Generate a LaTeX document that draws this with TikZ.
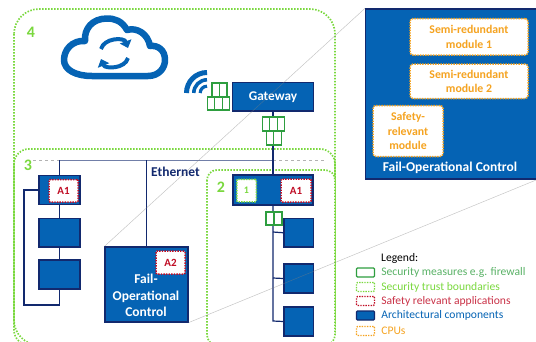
\documentclass[tikz,border=0pt]{standalone}
\usepackage{fontspec}
\setmainfont{Carlito}
\usetikzlibrary{arrows.meta, positioning}
\definecolor{archblue}{HTML}{0563B4}
\definecolor{archnavy}{HTML}{12296E}
\definecolor{trustgreen}{HTML}{7AD83E}
\definecolor{fwgreen}{HTML}{2E9E3F}
\definecolor{appred}{HTML}{C00D25}
\definecolor{cpuorange}{HTML}{F5A320}
\tikzset{
    block/.style={draw=archnavy, line width=1.2pt, fill=archblue, inner sep=0pt, text=white, align=center},
    app/.style={draw=appred, fill=white, line width=1.5pt, dash pattern=on 1.4pt off 1.2pt, rounded corners=1pt, inner sep=0pt, text=appred, font=\fontsize{11}{12}\selectfont\bfseries},
    cpu/.style={draw=cpuorange, fill=white, line width=1.5pt, dash pattern=on 1.4pt off 1.2pt, rounded corners=3pt, inner sep=0pt, text=cpuorange, align=center, font=\fontsize{11.8}{14.4}\selectfont\bfseries},
    trust/.style={draw=trustgreen, line width=1.7pt, dash pattern=on 1.5pt off 1.5pt},
    fwcell/.style={draw=fwgreen, fill=white, line width=1.4pt, minimum height=14pt, inner sep=0pt},
    link/.style={draw=archnavy, line width=1.2pt},
    zoomline/.style={draw=gray, opacity=0.45, line width=0.5pt},
    legtext/.style={anchor=west, inner sep=0pt, font=\fontsize{11.6}{13}\selectfont},
    legbox/.style={minimum width=18pt, minimum height=9pt, inner sep=0pt, rounded corners=1pt, fill=white},
    number/.style={text=trustgreen, inner sep=0pt, font=\fontsize{16}{18}\selectfont\bfseries}
}
\begin{document}
\begin{tikzpicture}[x=1pt, y=-1pt]
    \useasboundingbox (0,0) rectangle (536,341);

    % Trust boundaries
    \draw[trust, rounded corners=25pt] (14,9) rectangle (335,345);
    \draw[trust, rounded corners=15pt] (14,149) rectangle (335,345);
    \draw[trust, rounded corners=10pt, fill=white] (207,170) rectangle (335,345);
    \node[number] (num4) at (31,32) {4};
    \node[number] (num3) at (28,165) {3};
    \node[number] (num2) at (221,187) {2};

    % Cloud
    \draw[draw=archblue, line width=6.5pt, line join=round, fill=white] (92,76) -- (148,76)
        .. controls (159,76) and (165,68) .. (165,60) .. controls (165,50) and (158,45) .. (150,46)
        .. controls (148,34) and (137,27) .. (127,30) .. controls (122,21) and (115,18.5) .. (107,18.5)
        .. controls (92,18.5) and (84,29) .. (85,41) .. controls (72,40) and (64,50) .. (64,60)
        .. controls (64,70) and (76,76) .. (92,76) -- cycle;
    \draw[draw=archblue, line width=4pt, -{Triangle[length=7pt, width=12pt]}] (101,49) .. controls (104,38) and (124,37) .. (128,48);
    \draw[draw=archblue, line width=4pt, -{Triangle[length=7pt, width=12pt]}] (128,58) .. controls (125,69) and (105,69) .. (101,59);

    % Wireless icon
    \foreach \r/\w in {20.5/5, 13.2/3.6, 6.8/3.2} {
        \draw[draw=archblue, line width=\w pt] (207-\r,93) arc[start angle=180, end angle=270, radius=\r];
    }

    % Architectural components
    \node[block, minimum width=81pt, minimum height=28.5pt, font=\fontsize{13.3}{15}\selectfont\bfseries] (gateway) at (273,96.75) {Gateway};
    \node[block, minimum width=41pt, minimum height=29pt] (leftA) at (59.5,190) {};
    \node[block, minimum width=41pt, minimum height=28.5pt] (leftB) at (59.5,232.75) {};
    \node[block, minimum width=41pt, minimum height=29pt] (leftC) at (59.5,274.5) {};
    \node[block, minimum width=83pt, minimum height=75pt] (fail) at (146.5,284.5) {};
    \node[text=white, align=center, inner sep=0pt, font=\fontsize{13.5}{16.5}\selectfont\bfseries] (failtext) at (146,295.5) {Fail-\\Operational\\Control};
    \node[block, minimum width=80pt, minimum height=30pt] (midA) at (273,190) {};
    \node[block, minimum width=29.5pt, minimum height=28.5pt] (midB) at (298.75,232.75) {};
    \node[block, minimum width=29.5pt, minimum height=29pt] (midC) at (298.75,278.5) {};
    \node[block, minimum width=29.5pt, minimum height=29pt] (midD) at (298.75,321.5) {};

    % Applications
    \node[app, minimum width=29pt, minimum height=22.5pt] (appA) at (63.5,190.75) {A1};
    \node[app, minimum width=29pt, minimum height=23pt] (appB) at (170.5,262.5) {A2};
    \node[app, minimum width=30pt, minimum height=23pt] (appC) at (296,190.5) {A1};
    \node[draw=trustgreen, fill=white, line width=1.5pt, dash pattern=on 1.4pt off 1.2pt, rounded corners=1pt, minimum width=19.5pt, minimum height=22.5pt, inner sep=0pt, text=trustgreen, font=\fontsize{10}{11}\selectfont\bfseries] (appD) at (246.5,190.5) {1};

    % Ethernet
    \coordinate (ethA) at (33,160);
    \coordinate (ethB) at (59.5,160);
    \coordinate (ethC) at (146.5,160);
    \coordinate (ethD) at (273,160);
    \coordinate (ethE) at (325,160);
    \draw[draw=archnavy!60, line width=0.7pt] (ethB) -- (ethD);
    \draw[draw=gray!60, line width=0.7pt, dashed] (ethA) -- (ethB);
    \draw[draw=gray!60, line width=0.7pt, dashed] (ethD) -- (ethE);
    \node[anchor=west, inner sep=0pt, text=archnavy, font=\fontsize{13.5}{15}\selectfont\bfseries] (ethlabel) at (151,172) {Ethernet};

    % Links
    \coordinate (loopA) at (24,305);
    \coordinate (busA) at (273,232);
    \coordinate (busB) at (273,278);
    \coordinate (busC) at (273,321);
    \draw[link] (gateway.south) -- (midA.north);
    \draw[link] (ethB) -- (leftA.north);
    \draw[link] (ethC) -- (fail.north);
    \draw[link] (leftA.south) -- (leftB.north);
    \draw[link] (leftB.south) -- (leftC.north);
    \draw[link] (leftC.south) |- (loopA) |- (leftA.west);
    \draw[link] (midA.south) -- (busC) -- (midD.west);
    \draw[link] (busA) -- (midB.west);
    \draw[link] (busB) -- (midC.west);

    % Firewalls
    \foreach \i/\cx in {1/215.75, 2/223.25} {
        \node[fwcell, minimum width=7.5pt] (fwa\i) at (\cx-0,90) {};
    }
    \foreach \i/\cx in {1/211, 2/218.5, 3/226} {
        \node[fwcell, minimum width=7.5pt, minimum height=13pt] (fwb\i) at (\cx,103.5) {};
    }
    \foreach \i/\cx in {1/266, 2/273.5, 3/281} {
        \node[fwcell, minimum width=7.5pt] (fwc\i) at (\cx,124) {};
    }
    \foreach \i/\cx in {1/270, 2/277.5} {
        \node[fwcell, minimum width=7.5pt] (fwd\i) at (\cx,138) {};
    }
    \foreach \i/\cx in {1/270, 2/278} {
        \node[fwcell, minimum width=8pt, minimum height=13pt] (fwe\i) at (\cx,218.5) {};
    }

    % Detail of the control unit
    \node[block, minimum width=171pt, minimum height=170pt] (detail) at (451,94) {};
    \node[cpu, minimum width=118pt, minimum height=36.5pt] (semiA) at (469,36.75) {Semi-redundant\\module 1};
    \node[cpu, minimum width=118pt, minimum height=34.5pt] (semiB) at (469,81.25) {Semi-redundant\\module 2};
    \node[cpu, minimum width=70pt, minimum height=51pt] (safety) at (408,131) {Safety-\\relevant\\module};
    \node[text=white, inner sep=0pt, font=\fontsize{13.5}{15}\selectfont\bfseries] (detailtext) at (450,167.5) {Fail-Operational Control};

    % Zoom lines
    \draw[zoomline] (fail.north west) -- (detail.north west);
    \draw[zoomline] (fail.south east) -- (detail.south east);

    % Legend
    \node[legtext, text=black] (legtitle) at (381,258) {Legend:};
    \node[legbox, draw=fwgreen, line width=1.3pt] (legA) at (365.5,272.5) {};
    \node[legtext, text=fwgreen!80, right=6pt of legA] (legAtext) {Security measures e.g. firewall};
    \node[legbox, draw=trustgreen, line width=1.3pt, dash pattern=on 1.4pt off 1.2pt] (legB) at (365.5,287) {};
    \node[legtext, text=trustgreen, right=6pt of legB] (legBtext) {Security trust boundaries};
    \node[legbox, draw=appred, line width=1.3pt, dash pattern=on 1.4pt off 1.2pt] (legC) at (365.5,301) {};
    \node[legtext, text=appred!85, right=6pt of legC] (legCtext) {Safety relevant applications};
    \node[legbox, draw=archnavy, fill=archblue, line width=1.3pt] (legD) at (365.5,315.5) {};
    \node[legtext, text=archblue, right=6pt of legD] (legDtext) {Architectural components};
    \node[legbox, draw=cpuorange, line width=1.3pt, dash pattern=on 1.4pt off 1.2pt] (legE) at (365.5,331) {};
    \node[legtext, text=cpuorange, right=6pt of legE] (legEtext) {CPUs};
\end{tikzpicture}
\end{document}
